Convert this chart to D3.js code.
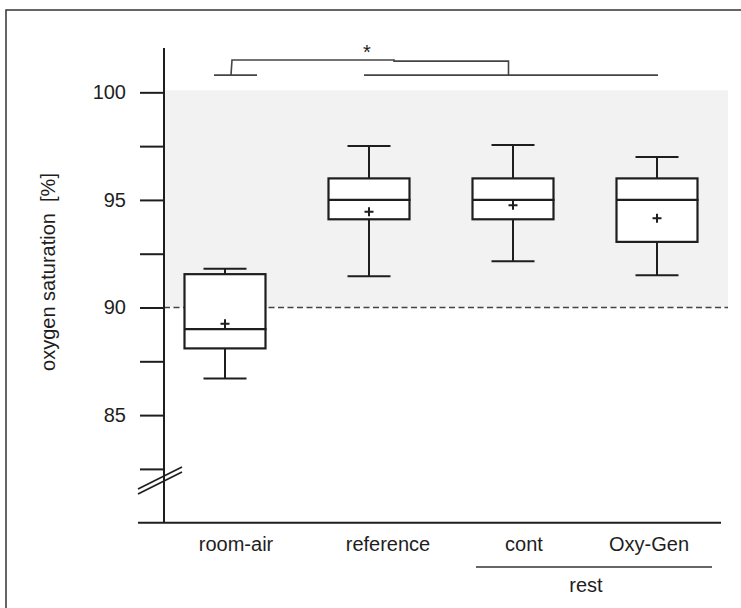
<!DOCTYPE html>
<html>
<head>
<meta charset="utf-8">
<script src="https://cdn.jsdelivr.net/npm/d3@7"></script>
<style>
  body { margin: 0; background: #fff; }
  svg { display: block; font-family: "Liberation Sans", Arial, sans-serif; }
</style>
</head>
<body>
<svg id="chart" width="741" height="608"></svg>
<script>
// box plot values
var categories = ["room-air", "reference", "cont", "Oxy-Gen"];
var whiskerLow = [86.7, 91.45, 92.15, 91.5];
var q1 = [88.1, 94.1, 94.1, 93.05];
var medians = [89.0, 95.0, 95.0, 95.0];
var q3 = [91.55, 96.0, 96.0, 96.0];
var whiskerHigh = [91.8, 97.5, 97.55, 97.0];
var means = [89.25, 94.45, 94.75, 94.15];

var yTicks = [82.5, 85, 87.5, 90, 92.5, 95, 97.5, 100];
var yTickLabels = [85, 90, 95, 100];
var labelShift = [11, 19, 11, -8];   // labels sit a bit off the box centres

var normalLow = 90, normalHigh = 100;

var svg = d3.select("#chart");
var ink = "#1e1e1e";

var boxes = categories.map(function(c, i) {
  return { name: c, lo: whiskerLow[i], q1: q1[i], med: medians[i],
           q3: q3[i], hi: whiskerHigh[i], mean: means[i], shift: labelShift[i] };
});

var y = d3.scaleLinear()
    .domain([80, 102.06])
    .range([522.7, 48]);

var x = d3.scaleBand()
    .domain(categories)
    .range([153, 729]);

var axisX = 164, plotRight = 728;
var boxW = 81, capW = 43;

// outer frame (right and bottom fall outside the picture)
svg.append("rect")
    .attr("x", 6).attr("y", 10)
    .attr("width", 780).attr("height", 640)
    .attr("fill", "none")
    .attr("stroke", "#333")
    .attr("stroke-width", 1.5);

// normal range shading
svg.append("rect")
    .attr("x", axisX)
    .attr("y", y(normalHigh) - 2)
    .attr("width", plotRight - axisX)
    .attr("height", y(normalLow) - y(normalHigh) + 2)
    .attr("fill", "#f2f2f2");

svg.append("line")
    .attr("x1", axisX).attr("x2", plotRight)
    .attr("y1", y(normalLow)).attr("y2", y(normalLow))
    .attr("stroke", "#444")
    .attr("stroke-width", 1.6)
    .attr("stroke-dasharray", "6,3.5");

// y axis
var yAxis = d3.axisLeft(y)
    .tickValues(yTicks)
    .tickSize(24)
    .tickPadding(14)
    .tickFormat(function(d) { return yTickLabels.indexOf(d) >= 0 ? d : ""; });

var yAxisG = svg.append("g")
    .attr("transform", "translate(" + axisX + ",0)")
    .call(yAxis);

yAxisG.select(".domain").remove();
yAxisG.selectAll(".tick line").attr("stroke", ink).attr("stroke-width", 2);
yAxisG.selectAll(".tick text")
    .attr("fill", ink)
    .style("font-size", "20px")
    .style("font-family", "'Liberation Sans', Arial, sans-serif");

svg.append("line")
    .attr("x1", axisX).attr("x2", axisX)
    .attr("y1", y.range()[1]).attr("y2", y.range()[0])
    .attr("stroke", ink).attr("stroke-width", 2);

// x axis line
svg.append("line")
    .attr("x1", 138).attr("x2", 721)
    .attr("y1", y(80)).attr("y2", y(80))
    .attr("stroke", ink).attr("stroke-width", 2);

// axis break marks
[0, 5].forEach(function(off) {
  svg.append("line")
      .attr("x1", 138).attr("y1", 489 + off)
      .attr("x2", 182).attr("y2", 467 + off)
      .attr("stroke", ink).attr("stroke-width", 1.6);
});

// boxes
var g = svg.append("g").selectAll("g")
    .data(boxes)
  .enter().append("g")
    .attr("transform", function(d) { return "translate(" + (x(d.name) + x.bandwidth() / 2) + ",0)"; });

g.append("line")
    .attr("x1", 0).attr("x2", 0)
    .attr("y1", function(d) { return y(d.hi); })
    .attr("y2", function(d) { return y(d.lo); })
    .attr("stroke", ink).attr("stroke-width", 2);

g.append("line")
    .attr("x1", -capW / 2).attr("x2", capW / 2)
    .attr("y1", function(d) { return y(d.hi); })
    .attr("y2", function(d) { return y(d.hi); })
    .attr("stroke", ink).attr("stroke-width", 2);

g.append("line")
    .attr("x1", -capW / 2).attr("x2", capW / 2)
    .attr("y1", function(d) { return y(d.lo); })
    .attr("y2", function(d) { return y(d.lo); })
    .attr("stroke", ink).attr("stroke-width", 2);

g.append("rect")
    .attr("x", -boxW / 2)
    .attr("y", function(d) { return y(d.q3); })
    .attr("width", boxW)
    .attr("height", function(d) { return y(d.q1) - y(d.q3); })
    .attr("fill", "#fff")
    .attr("stroke", ink).attr("stroke-width", 2.2);

g.append("line")
    .attr("x1", -boxW / 2).attr("x2", boxW / 2 + 1)
    .attr("y1", function(d) { return y(d.med); })
    .attr("y2", function(d) { return y(d.med); })
    .attr("stroke", ink).attr("stroke-width", 2.2);

// mean markers
g.append("path")
    .attr("d", function(d) {
      var cy = y(d.mean);
      return "M-4.5," + cy + "H4.5M0," + (cy - 4.5) + "V" + (cy + 4.5);
    })
    .attr("stroke", ink).attr("stroke-width", 2);

// category labels
g.append("text")
    .attr("x", function(d) { return d.shift; })
    .attr("y", 551)
    .attr("text-anchor", "middle")
    .attr("fill", ink)
    .style("font-size", "20px")
    .text(function(d) { return d.name; });

// group "rest"
svg.append("line")
    .attr("x1", 476).attr("x2", 712)
    .attr("y1", 567).attr("y2", 567)
    .attr("stroke", "#333").attr("stroke-width", 1.5);

svg.append("text")
    .attr("x", 586).attr("y", 592)
    .attr("text-anchor", "middle")
    .attr("fill", ink)
    .style("font-size", "20px")
    .text("rest");

// y label
svg.append("text")
    .attr("transform", "translate(55,272) rotate(-90)")
    .attr("text-anchor", "middle")
    .attr("fill", ink)
    .style("font-size", "20px")
    .style("white-space", "pre")
    .text("oxygen saturation  [%]");

// significance bracket
var bracket = d3.path();
bracket.moveTo(214, y(100.8)); bracket.lineTo(257, y(100.8));
bracket.moveTo(231, y(100.8)); bracket.lineTo(232, y(101.5));
bracket.lineTo(394, y(101.5)); bracket.lineTo(394, y(101.45));
bracket.lineTo(508.5, y(101.45)); bracket.lineTo(508.5, y(100.8));
bracket.moveTo(364, y(100.8)); bracket.lineTo(658, y(100.8));

svg.append("path")
    .attr("d", bracket.toString())
    .attr("fill", "none")
    .attr("stroke", "#444")
    .attr("stroke-width", 1.6);

svg.append("text")
    .attr("x", 367).attr("y", 59)
    .attr("text-anchor", "middle")
    .attr("fill", ink)
    .style("font-size", "20px")
    .text("*");
</script>
</body>
</html>
